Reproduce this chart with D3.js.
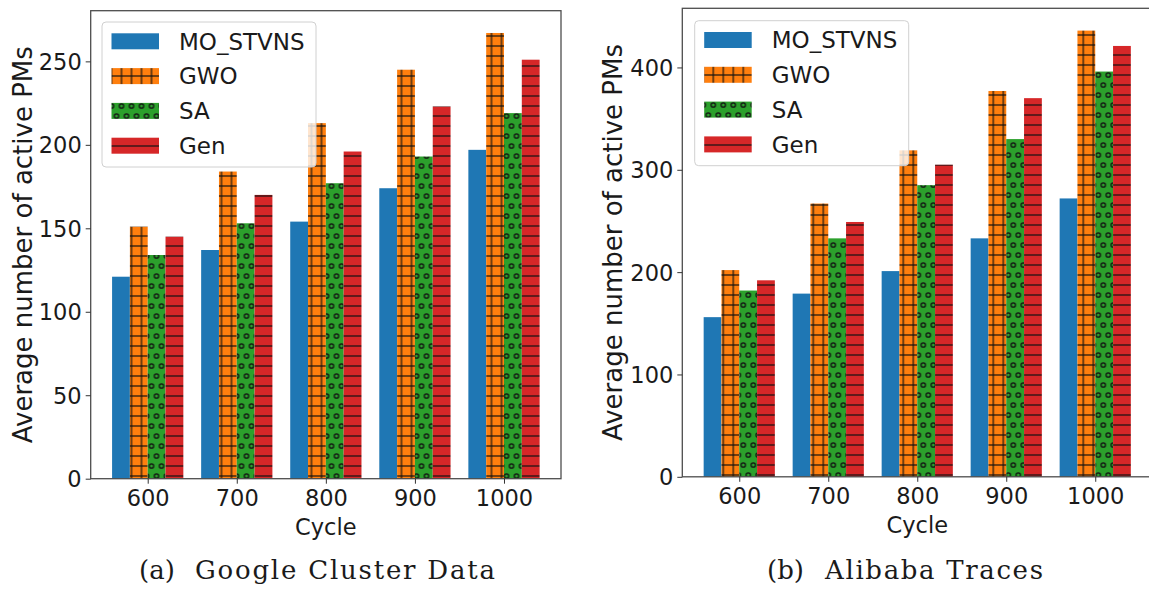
<!DOCTYPE html>
<html>
<head>
<meta charset="utf-8">
<script src="https://cdn.jsdelivr.net/npm/d3@7"></script>
<style>
  html, body { margin: 0; padding: 0; background: #fff; }
  svg { display: block; font-family: "DejaVu Sans", sans-serif; }
</style>
</head>
<body>
<svg id="chart" width="1149" height="590"></svg>
<script>
// categories and series
const cycles = [600, 700, 800, 900, 1000];
const methods = ["MO_STVNS", "GWO", "SA", "Gen"];

// (a) Google Cluster Data
const googleMO = [121, 137, 154, 174, 197];
const googleGWO = [151, 184, 213, 245, 267];
const googleSA = [134, 153, 177, 193, 219];
const googleGen = [145, 170, 196, 223, 251];
const googleTicks = [0, 50, 100, 150, 200, 250];

// (b) Alibaba Traces
const alibabaMO = [156, 179, 201, 233, 272];
const alibabaGWO = [202, 267, 319, 377, 436];
const alibabaSA = [182, 233, 285, 330, 396];
const alibabaGen = [192, 249, 305, 370, 421];
const alibabaTicks = [0, 100, 200, 300, 400];

const colors = ["#1f77b4", "#ff7f0e", "#2ca02c", "#d62728"];
const hatchColor = "#111";

const svg = d3.select("#chart");
const defs = svg.append("defs");

// hatch patterns, anchored to page pixels like matplotlib does
function makePatterns(id, px, py) {
    const P = 10;
    // '+' for GWO
    const g = defs.append("pattern").attr("id", id + "-gwo")
        .attr("patternUnits", "userSpaceOnUse")
        .attr("width", P).attr("height", P)
        .attr("x", px - P / 2).attr("y", py - P / 2);
    g.append("rect").attr("width", P).attr("height", P).attr("fill", colors[1]);
    g.append("line").attr("x1", P / 2).attr("x2", P / 2).attr("y1", 0).attr("y2", P)
        .attr("stroke", hatchColor).attr("stroke-width", 1.2);
    g.append("line").attr("x1", 0).attr("x2", P).attr("y1", P / 2).attr("y2", P / 2)
        .attr("stroke", hatchColor).attr("stroke-width", 1.2);

    // 'o' for SA, staggered rows
    const s = defs.append("pattern").attr("id", id + "-sa")
        .attr("patternUnits", "userSpaceOnUse")
        .attr("width", P).attr("height", 2 * P)
        .attr("x", px - P / 2).attr("y", py - P / 2);
    s.append("rect").attr("width", P).attr("height", 2 * P).attr("fill", colors[2]);
    [[P / 2, P / 2], [0, 1.5 * P], [P, 1.5 * P]].forEach(c => {
        s.append("circle").attr("cx", c[0]).attr("cy", c[1]).attr("r", 2.2)
            .attr("fill", "none").attr("stroke", hatchColor).attr("stroke-width", 1.3);
    });

    // '-' for Gen
    const r = defs.append("pattern").attr("id", id + "-gen")
        .attr("patternUnits", "userSpaceOnUse")
        .attr("width", P).attr("height", P)
        .attr("x", px - P / 2).attr("y", py - P / 2);
    r.append("rect").attr("width", P).attr("height", P).attr("fill", colors[3]);
    r.append("line").attr("x1", 0).attr("x2", P).attr("y1", P / 2).attr("y2", P / 2)
        .attr("stroke", hatchColor).attr("stroke-width", 1.2);

    return [colors[0], `url(#${id}-gwo)`, `url(#${id}-sa)`, `url(#${id}-gen)`];
}

function drawPanel(cfg) {
    const fills = makePatterns(cfg.id, cfg.hatchX, cfg.hatchY);
    const g = svg.append("g");

    const x = d3.scaleLinear().domain([-0.64, 4.64]).range([cfg.left, cfg.right]);
    const y = d3.scaleLinear().domain([0, cfg.yMax]).range([cfg.bottom, cfg.top]);
    const bw = 0.2;

    // bars
    cfg.series.forEach((vals, j) => {
        g.append("g").selectAll("rect")
            .data(vals)
            .join("rect")
            .attr("x", (d, i) => x(i - 0.4 + j * bw))
            .attr("width", x(bw) - x(0))
            .attr("y", d => y(d))
            .attr("height", d => y(0) - y(d))
            .attr("fill", fills[j]);
    });

    // frame
    g.append("rect")
        .attr("x", cfg.left).attr("y", cfg.top)
        .attr("width", cfg.right - cfg.left).attr("height", cfg.bottom - cfg.top)
        .attr("fill", "none").attr("stroke", "#4d4d4d").attr("stroke-width", 1.3);

    // axes
    const xAxis = d3.axisBottom(x)
        .tickValues(d3.range(cycles.length))
        .tickFormat(i => cycles[i])
        .tickSize(5).tickPadding(6);
    const yAxis = d3.axisLeft(y)
        .tickValues(cfg.ticks)
        .tickSize(5).tickPadding(4);

    const gx = g.append("g").attr("transform", `translate(0,${cfg.bottom})`).call(xAxis);
    const gy = g.append("g").attr("transform", `translate(${cfg.left},0)`).call(yAxis);
    [gx, gy].forEach(a => {
        a.select(".domain").remove();
        a.selectAll("line").attr("stroke", "#333").attr("stroke-width", 1);
        a.selectAll("text").attr("fill", "#1a1a1a")
            .style("font-size", "22.5px").style("font-family", "DejaVu Sans");
    });
    gx.selectAll("text").attr("dy", "0.72em");
    gy.selectAll("text").attr("dy", "0.36em");

    // axis titles
    g.append("text")
        .attr("x", (cfg.left + cfg.right) / 2).attr("y", cfg.bottom + 56)
        .attr("text-anchor", "middle").attr("fill", "#1a1a1a")
        .style("font-size", "22.5px")
        .text("Cycle");
    g.append("text")
        .attr("transform", `translate(${cfg.yLabelX},${(cfg.top + cfg.bottom) / 2}) rotate(-90)`)
        .attr("text-anchor", "middle").attr("fill", "#1a1a1a")
        .style("font-size", "26px")
        .text("Average number of active PMs");

    // legend
    const lg = g.append("g");
    lg.append("rect")
        .attr("x", cfg.legX).attr("y", cfg.legY)
        .attr("width", 214).attr("height", 145)
        .attr("rx", 4)
        .attr("fill", "#fff").attr("fill-opacity", 0.8)
        .attr("stroke", "#d0d0d0").attr("stroke-width", 1);
    methods.forEach((m, j) => {
        const cy = cfg.legY + 19.3 + j * 34.8;
        lg.append("rect")
            .attr("x", cfg.legX + 9.5).attr("y", cy - 8)
            .attr("width", 47.5).attr("height", 16)
            .attr("fill", fills[j]);
        lg.append("text")
            .attr("x", cfg.legX + 77).attr("y", cy).attr("dy", "0.36em")
            .attr("fill", "#1a1a1a")
            .style("font-size", "23px")
            .text(m);
    });

    // caption
    const cap = g.append("g").style("font-family", "'DejaVu Serif', serif")
        .style("font-size", "26px").attr("fill", "#1a1a1a");
    cap.append("text").attr("x", cfg.capX0).attr("y", 579).text(cfg.capTag);
    cap.append("text").attr("x", cfg.capX1).attr("y", 579)
        .attr("textLength", cfg.capW).attr("lengthAdjust", "spacing")
        .text(cfg.capText);
}

drawPanel({
    id: "ga",
    left: 90.7, right: 561, top: 10.7, bottom: 478.7,
    yMax: 280.35, ticks: googleTicks,
    series: [googleMO, googleGWO, googleSA, googleGen],
    hatchX: 1.5, hatchY: 6, yLabelX: 32,
    legX: 102, legY: 22,
    capTag: "(a)", capText: "Google Cluster Data",
    capX0: 139, capX1: 195, capW: 300
});

drawPanel({
    id: "ab",
    left: 682.3, right: 1152.2, top: 8.3, bottom: 476.8,
    yMax: 457.8, ticks: alibabaTicks,
    series: [alibabaMO, alibabaGWO, alibabaSA, alibabaGen],
    hatchX: 3.3, hatchY: 5, yLabelX: 621.5,
    legX: 694.7, legY: 20.7,
    capTag: "(b)", capText: "Alibaba Traces",
    capX0: 767, capX1: 825, capW: 218
});
</script>
</body>
</html>
